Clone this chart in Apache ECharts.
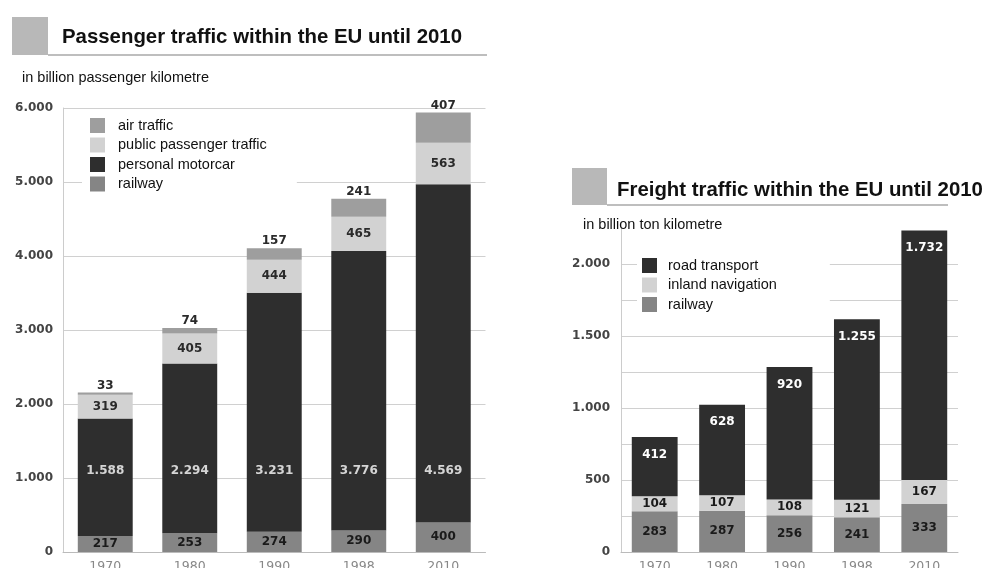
<!DOCTYPE html>
<html>
<head>
<meta charset="utf-8">
<script src="https://cdn.jsdelivr.net/npm/echarts@6/dist/echarts.min.js"></script>
<style>html,body{margin:0;padding:0;background:#fff;}#c{width:987px;height:568px;}</style>
</head>
<body>
<div id="c"></div>
<script>
// ---- data ----
const passCategories = ['1970', '1980', '1990', '1998', '2010'];
const passRailway = [217, 253, 274, 290, 400];
const passMotorcar = [1588, 2294, 3231, 3776, 4569];
const passPublic = [319, 405, 444, 465, 563];
const passAir = [33, 74, 157, 241, 407];

const freightCategories = ['1970', '1980', '1990', '1998', '2010'];
const freightRailway = [283, 287, 256, 241, 333];
const freightInland = [104, 107, 108, 121, 167];
const freightRoad = [412, 628, 920, 1255, 1732];

const motorcarLabelLevel = [1100, 1100, 1100, 1100, 1100];

// ---- helpers ----
const fmt = v => String(v).replace(/\B(?=(\d{3})+(?!\d))/g, '.');
const SANS = 'Liberation Sans';
const NUMF = 'DejaVu Sans';
const valLabel = (extra) => Object.assign({
  show: true, position: 'inside', color: '#1a1a1a', fontWeight: 'bold',
  fontFamily: NUMF, fontSize: 12, formatter: p => fmt(p.value)
}, extra || {});

const C_RAIL = '#858585', C_MOTOR = '#2e2e2e', C_PUBLIC = '#d2d2d2', C_AIR = '#9e9e9e';

const chart = echarts.init(document.getElementById('c'), null, {renderer: 'canvas'});

const titleStyle = {fontFamily: SANS, fontWeight: 'bold', fontSize: 20.4, color: '#111', lineHeight: 22};
const subStyle = {fontFamily: SANS, fontWeight: 'normal', fontSize: 14.5, color: '#111', lineHeight: 17};
const legendText = (pad) => ({fontFamily: SANS, fontSize: 14.5, color: '#111', lineHeight: 15, padding: [0, 0, 0, pad]});

const option = {
  animation: false,
  backgroundColor: '#fff',
  title: [
    {text: 'Passenger traffic within the EU until 2010', left: 62, top: 26, padding: 0, textStyle: titleStyle},
    {text: 'in billion passenger kilometre', left: 22, top: 69, padding: 0, textStyle: subStyle},
    {text: 'Freight traffic within the EU until 2010', left: 617, top: 179, padding: 0, textStyle: titleStyle},
    {text: 'in billion ton kilometre', left: 583, top: 216, padding: 0, textStyle: subStyle}
  ],
  graphic: [
    {type: 'rect', shape: {x: 12, y: 17, width: 36, height: 38}, style: {fill: '#b8b8b8'}},
    {type: 'line', shape: {x1: 48, y1: 55, x2: 487, y2: 55}, style: {stroke: '#a8a8a8', lineWidth: 1.5}},
    {type: 'rect', shape: {x: 572, y: 168, width: 35, height: 37}, style: {fill: '#b8b8b8'}},
    {type: 'line', shape: {x1: 607, y1: 205, x2: 948, y2: 205}, style: {stroke: '#a8a8a8', lineWidth: 1.5}}
  ],
  legend: [
    {
      data: ['air traffic', 'public passenger traffic', 'personal motorcar', 'railway'],
      orient: 'vertical', left: 82, top: 110, padding: [8, 30, 10, 8],
      backgroundColor: '#fff', itemWidth: 15, itemHeight: 15, itemGap: 4.5, icon: 'rect',
      textStyle: legendText(8), selectedMode: false
    },
    {
      data: ['road transport', 'inland navigation', 'railway'],
      orient: 'vertical', left: 637, top: 250, padding: [8, 53, 6, 5],
      backgroundColor: '#fff', itemWidth: 15, itemHeight: 15, itemGap: 4.5, icon: 'rect',
      textStyle: legendText(6), selectedMode: false
    }
  ],
  grid: [
    {left: 63, top: 108, width: 422.5, height: 444, outerBoundsMode: 'none', containLabel: false},
    {left: 621, top: 228, width: 337, height: 324, outerBoundsMode: 'none', containLabel: false}
  ],
  xAxis: [
    {type: 'category', gridIndex: 0, data: passCategories,
     axisLine: {lineStyle: {color: '#bbb'}}, axisTick: {show: false},
     axisLabel: {color: '#888', fontFamily: NUMF, fontSize: 12.5, margin: 8}},
    {type: 'category', gridIndex: 1, data: freightCategories,
     axisLine: {lineStyle: {color: '#bbb'}}, axisTick: {show: false},
     axisLabel: {color: '#888', fontFamily: NUMF, fontSize: 12.5, margin: 8}}
  ],
  yAxis: [
    {type: 'value', gridIndex: 0, min: 0, max: 6000, interval: 1000,
     axisLine: {show: true, lineStyle: {color: '#ccc'}}, axisTick: {show: false},
     splitLine: {lineStyle: {color: '#d0d0d0'}},
     axisLabel: {formatter: v => fmt(v), color: '#444', fontWeight: 'bold', fontFamily: NUMF, fontSize: 12, margin: 10}},
    {type: 'value', gridIndex: 1, min: 0, max: 2250, interval: 250,
     axisLine: {show: true, lineStyle: {color: '#ccc'}}, axisTick: {show: false},
     splitLine: {showMaxLine: false, lineStyle: {color: '#d0d0d0'}},
     axisLabel: {formatter: v => (v % 500 === 0 ? fmt(v) : ''), color: '#444', fontWeight: 'bold', fontFamily: NUMF, fontSize: 12, margin: 11}}
  ],
  series: [
    {name: 'railway', type: 'bar', stack: 'p', xAxisIndex: 0, yAxisIndex: 0, barWidth: '65%',
     data: passRailway, itemStyle: {color: C_RAIL}, label: valLabel()},
    {name: 'personal motorcar', type: 'bar', stack: 'p', xAxisIndex: 0, yAxisIndex: 0,
     data: passMotorcar, itemStyle: {color: C_MOTOR}, label: {show: false}},
    {name: 'public passenger traffic', type: 'bar', stack: 'p', xAxisIndex: 0, yAxisIndex: 0,
     data: passPublic, itemStyle: {color: C_PUBLIC}, label: valLabel({color: '#2a2a2a'})},
    {name: 'air traffic', type: 'bar', stack: 'p', xAxisIndex: 0, yAxisIndex: 0,
     data: passAir, itemStyle: {color: C_AIR}, label: valLabel({position: 'top', distance: 1, color: '#2a2a2a'})},
    {name: 'motorcar values', type: 'scatter', xAxisIndex: 0, yAxisIndex: 0, symbolSize: 0, silent: true, z: 10,
     data: motorcarLabelLevel,
     label: {show: true, position: 'inside', color: '#fff', fontWeight: 'bold', fontFamily: NUMF, fontSize: 12,
             formatter: p => fmt(passMotorcar[p.dataIndex])}},

    {name: 'railway', type: 'bar', stack: 'f', xAxisIndex: 1, yAxisIndex: 1, barWidth: '68%',
     data: freightRailway, itemStyle: {color: C_RAIL}, label: valLabel()},
    {name: 'inland navigation', type: 'bar', stack: 'f', xAxisIndex: 1, yAxisIndex: 1,
     data: freightInland, itemStyle: {color: C_PUBLIC}, label: valLabel()},
    {name: 'road transport', type: 'bar', stack: 'f', xAxisIndex: 1, yAxisIndex: 1,
     data: freightRoad, itemStyle: {color: C_MOTOR}, label: valLabel({position: 'insideTop', distance: 11.5, color: '#fff'})}
  ]
};
chart.setOption(option);
</script>
</body>
</html>
